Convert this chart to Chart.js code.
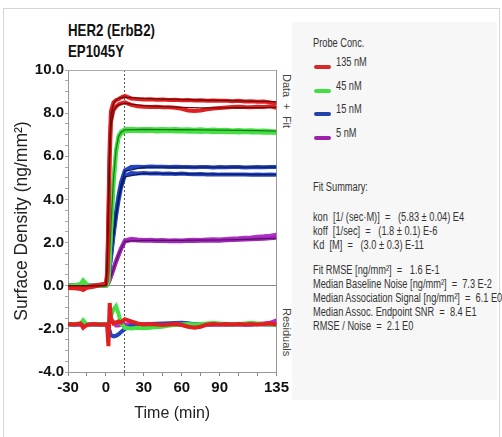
<!DOCTYPE html>
<html>
<head>
<meta charset="utf-8">
<script src="https://cdn.jsdelivr.net/npm/chart.js@4.4.1/dist/chart.umd.min.js"></script>
<style>
body { margin: 0; background: #fff; width: 502px; height: 437px; overflow: hidden; position: relative;
       font-family: 'Liberation Sans', Arial, sans-serif; }
#frame { position: absolute; left: 3px; top: 8px; width: 495px; height: 440px; border: 1px solid #d6d6d6; }
#panel { position: absolute; left: 292px; top: 22px; width: 205px; height: 378px; background: #f7f7f7; }
#c { position: absolute; left: 0; top: 0; }
.t { position: absolute; white-space: pre; color: #333; font-size: 12px; line-height: 14px;
     transform: scaleX(0.77); transform-origin: 0 0; }
.ttl { position: absolute; white-space: nowrap; color: #111; font-weight: bold; font-size: 17px; line-height: 20px;
       transform: scaleX(0.78); transform-origin: 0 0; }
.side { position: absolute; writing-mode: vertical-rl; color: #444; font-size: 11px; white-space: pre; }
.sw { position: absolute; width: 17px; height: 4px; border-radius: 2px; }
</style>
</head>
<body>
<div id="frame"></div>
<div id="panel"></div>
<div class="ttl" style="left:68px;top:21px">HER2 (ErbB2)</div>
<div class="ttl" style="left:68px;top:42px">EP1045Y</div>
<div class="side" style="left:281px;top:74px">Data  +  Fit</div>
<div class="side" style="left:281px;top:308px">Residuals</div>
<div id="legend"></div>
<div id="summary"></div>
<canvas id="c" width="292" height="437"></canvas>
<script>
// time axis (minutes)
var T = [-30,-25,-20,-18,-15,-10,-5,0,1,2,3,4,6,8,10,12,15,20,25,30,35,40,45,50,55,60,65,70,75,80,85,90,95,100,105,110,115,120,125,130,135];
var FIT_T = [-30,0,1,2,3,4,6,8,10,12,15,30,45,60,75,90,105,120,135];

// measured surface density, two replicates per concentration
var red135a = [-0.05,-0.08,-0.1,-0.15,-0.05,0.0,0.05,0.1, 0.6,3.5,6.6,8.1,8.5,8.6,8.65,8.72,
  8.8,8.68,8.65,8.63,8.64,8.62,8.63,8.61,8.62,8.6,8.61,8.59,8.6,8.57,8.59,8.57,8.58,8.55,8.57,8.54,8.55,8.53,8.54,8.5,8.43];
var red135b = [-0.1,-0.12,-0.15,-0.2,-0.1,-0.05,0.02,0.08, 0.4,2.8,5.9,7.6,8.15,8.3,8.4,8.45,
  8.5,8.38,8.32,8.3,8.28,8.3,8.27,8.27,8.25,8.2,8.12,8.1,8.12,8.18,8.22,8.24,8.26,8.28,8.3,8.28,8.27,8.3,8.28,8.32,8.25];
var green45a = [0.0,0.03,0.08,0.25,0.05,0.0,0.02,0.0, 0.05,0.3,1.4,2.6,4.9,6.3,6.95,7.15,
  7.25,7.28,7.25,7.27,7.26,7.25,7.27,7.25,7.26,7.24,7.25,7.23,7.25,7.22,7.24,7.22,7.23,7.2,7.22,7.2,7.21,7.18,7.2,7.17,7.15];
var green45b = [-0.02,0.0,0.05,0.2,0.02,-0.02,0.0,0.0, 0.04,0.25,1.2,2.4,4.7,6.15,6.85,7.05,
  7.15,7.18,7.17,7.16,7.18,7.15,7.16,7.17,7.15,7.16,7.14,7.15,7.13,7.15,7.12,7.14,7.12,7.13,7.1,7.12,7.1,7.11,7.09,7.1,7.08];
var blue15a = [0,0.02,0,0.01,-0.01,0,0.01,0, 0.1,0.4,0.9,1.4,2.5,3.4,4.2,4.8,
  5.35,5.5,5.52,5.5,5.53,5.51,5.52,5.5,5.51,5.5,5.5,5.49,5.5,5.5,5.48,5.5,5.49,5.5,5.5,5.48,5.49,5.5,5.49,5.5,5.5];
var blue15b = [0,0,0.01,0,0,-0.01,0,0, 0.1,0.35,0.8,1.3,2.3,3.2,3.95,4.55,
  5.1,5.22,5.2,5.22,5.2,5.21,5.19,5.2,5.18,5.2,5.18,5.17,5.18,5.16,5.17,5.15,5.16,5.15,5.16,5.15,5.14,5.15,5.14,5.15,5.14];
var purple5a = [0,0,0.01,0,0,0.01,0,0, 0.05,0.15,0.3,0.45,0.8,1.15,1.45,1.75,
  2.1,2.18,2.14,2.12,2.13,2.11,2.12,2.1,2.11,2.1,2.12,2.13,2.12,2.14,2.15,2.14,2.17,2.19,2.2,2.22,2.24,2.27,2.29,2.32,2.36];
var purple5b = [0,0,0,0.01,0,0,0,0, 0.04,0.13,0.27,0.42,0.75,1.1,1.4,1.7,
  2.05,2.12,2.1,2.08,2.09,2.07,2.08,2.06,2.07,2.06,2.08,2.07,2.08,2.09,2.1,2.09,2.11,2.12,2.13,2.14,2.15,2.17,2.18,2.2,2.22];

// fitted curves
var fitRedA = [0,0,1.0,4.0,6.6,7.9,8.45,8.6,8.68,8.72,8.74,8.68,8.65,8.63,8.61,8.59,8.57,8.55,8.53];
var fitRedB = [0,0,0.8,3.4,6.0,7.4,8.1,8.3,8.38,8.42,8.45,8.35,8.3,8.27,8.24,8.24,8.25,8.26,8.27];
var fitGreen = [0,0,0.1,0.5,1.6,2.8,4.95,6.3,6.92,7.12,7.22,7.25,7.24,7.23,7.22,7.21,7.2,7.19,7.17];
var fitBlueA = [0,0,0.12,0.45,0.95,1.45,2.45,3.35,4.1,4.7,5.3,5.5,5.5,5.5,5.5,5.5,5.5,5.5,5.5];
var fitBlueB = [0,0,0.1,0.4,0.85,1.3,2.25,3.15,3.9,4.5,5.05,5.21,5.2,5.19,5.18,5.17,5.16,5.15,5.15];
var fitPurple = [0,0,0.05,0.14,0.28,0.43,0.78,1.12,1.42,1.72,2.06,2.1,2.1,2.1,2.11,2.12,2.14,2.17,2.2];

// residuals (plotted offset around -1.8)
var resRed = [-1.78,-1.8,-1.75,-1.95,-1.82,-1.78,-1.8,-1.8, -1.9,-2.8,-0.8,-1.5,-1.75,-1.7,-1.65,-1.7,
  -1.55,-1.65,-1.75,-1.8,-1.78,-1.8,-1.82,-1.8,-1.78,-1.82,-1.9,-1.95,-1.9,-1.8,-1.78,-1.8,-1.78,-1.8,-1.78,-1.8,-1.78,-1.8,-1.78,-1.75,-1.8];
var resGreen = [-1.8,-1.78,-1.75,-1.6,-1.8,-1.8,-1.78,-1.8, -1.8,-1.75,-1.6,-1.4,-1.1,-0.95,-1.3,-1.75,
  -1.95,-1.98,-1.95,-1.97,-1.95,-1.92,-1.9,-1.85,-1.82,-1.8,-1.78,-1.8,-1.78,-1.75,-1.72,-1.75,-1.78,-1.8,-1.78,-1.75,-1.72,-1.75,-1.78,-1.8,-1.82];
var resBlue = [-1.8,-1.8,-1.8,-1.8,-1.8,-1.8,-1.8,-1.8, -1.85,-1.95,-2.1,-2.3,-2.35,-2.32,-2.25,-2.15,
  -2.0,-1.85,-1.82,-1.8,-1.78,-1.76,-1.75,-1.74,-1.73,-1.72,-1.74,-1.78,-1.8,-1.8,-1.8,-1.78,-1.8,-1.8,-1.78,-1.8,-1.8,-1.78,-1.8,-1.8,-1.8];
var resPurple = [-1.8,-1.8,-1.8,-1.8,-1.8,-1.8,-1.8,-1.8, -1.8,-1.78,-1.7,-1.6,-1.7,-1.85,-1.85,-1.8,
  -1.8,-1.78,-1.8,-1.8,-1.8,-1.8,-1.8,-1.8,-1.8,-1.8,-1.8,-1.8,-1.8,-1.8,-1.8,-1.8,-1.8,-1.8,-1.8,-1.8,-1.8,-1.78,-1.75,-1.72,-1.6];

var xLabels = [-30, 0, 30, 60, 90, 135];
var concLabels = ['135 nM', '45 nM', '15 nM', '5 nM'];
var concColors = ['#d42a2a', '#44dd44', '#2244aa', '#9c22aa'];
var summaryLines = [
  ['Fit Summary:', 0],
  ['kon  [1/ (sec\u00b7M)]  =   (5.83 \u00b1 0.04) E4', 30],
  ['koff  [1/sec]  =   (1.8 \u00b1 0.1) E-6', 44],
  ['Kd  [M]  =   (3.0 \u00b1 0.3) E-11', 58],
  ['Fit RMSE [ng/mm\u00b2]  =   1.6 E-1', 83],
  ['Median Baseline Noise [ng/mm\u00b2]  =  7.3 E-2', 97],
  ['Median Association Signal [ng/mm\u00b2]  =  6.1 E0', 111],
  ['Median Assoc. Endpoint SNR  =  8.4 E1', 125],
  ['RMSE / Noise  =  2.1 E0', 139]
];

// legend + summary panel text
var lg = document.getElementById('legend');
var h = '<div class="t" style="left:313px;top:36px">Probe Conc.</div>';
concLabels.forEach(function (l, i) {
  h += '<div class="sw" style="left:314px;top:' + (65 + i * 23.5) + 'px;background:' + concColors[i] + '"></div>';
  h += '<div class="t" style="left:336px;top:' + (55 + i * 23.5) + 'px">' + l + '</div>';
});
lg.innerHTML = h;
var sm = document.getElementById('summary');
h = '';
summaryLines.forEach(function (s) {
  h += '<div class="t" style="left:313px;top:' + (180 + s[1]) + 'px">' + s[0] + '</div>';
});
sm.innerHTML = h;

function pts(xs, ys) { return xs.map(function (x, i) { return { x: x, y: ys[i] }; }); }
function line(xs, ys, color, w) {
  return { data: pts(xs, ys), borderColor: color, borderWidth: w, pointRadius: 0, tension: 0, fill: false };
}

// bottom -> top
var sets = [
  line(T, resPurple, '#b030c8', 4),
  line(T, resBlue, '#2545c0', 4),
  line(T, resGreen, '#44e044', 4),
  line(T, resRed, '#e02020', 4),
  line(T, purple5a, '#b030c8', 4),
  line(T, purple5b, '#a028b8', 4),
  line(FIT_T, fitPurple, '#5a1066', 1.2),
  line(T, blue15a, '#2545c0', 4),
  line(T, blue15b, '#2545c0', 4),
  line(FIT_T, fitBlueA, '#0c1a60', 1.3),
  line(FIT_T, fitBlueB, '#0c1a60', 1.3),
  line(T, green45a, '#44e044', 4),
  line(T, green45b, '#44e044', 4),
  line(FIT_T, fitGreen, '#1a7a1a', 1.3),
  line(T, red135a, '#e02020', 4),
  line(T, red135b, '#e02020', 4),
  line(FIT_T, fitRedA, '#6e0a0a', 1.3),
  line(FIT_T, fitRedB, '#6e0a0a', 1.3)
].reverse();

var tickFont = { family: "'Liberation Sans', Arial", size: 15, weight: 'bold' };

new Chart(document.getElementById('c'), {
  type: 'line',
  data: { datasets: sets },
  options: {
    responsive: false,
    animation: false,
    layout: { padding: 0 },
    plugins: { legend: { display: false }, tooltip: { enabled: false } },
    scales: {
      x: {
        type: 'linear', min: -30, max: 135,
        ticks: {
          stepSize: 15, autoSkip: false, maxRotation: 0, padding: 3, color: '#111', font: tickFont,
          callback: function (v) { return xLabels.indexOf(v) >= 0 ? String(v) : ''; }
        },
        grid: {
          color: function (c) { return c.tick && c.tick.value === 15 ? '#555' : 'rgba(0,0,0,0)'; },
          tickColor: '#888', tickLength: 4, lineWidth: 1
        },
        border: { color: '#999', dash: [2, 2] },
        title: { display: true, text: 'Time (min)', color: '#222', padding: { top: 0, bottom: 14 },
                 font: { family: "'Liberation Sans', Arial", size: 16 } },
        afterFit: function (s) { s.height = 65; }
      },
      x2: {
        type: 'linear', position: 'top', min: -30, max: 135,
        ticks: { display: false }, grid: { display: false },
        border: { color: '#aaa' },
        afterFit: function (s) { s.height = 70; }
      },
      y: {
        type: 'linear', min: -4, max: 10,
        ticks: {
          stepSize: 0.5, autoSkip: false, padding: 1, color: '#111', font: tickFont,
          callback: function (v) { return Math.abs(v % 2) < 1e-9 ? v.toFixed(1) : ''; }
        },
        grid: {
          color: function (c) { return c.tick && c.tick.value === 0 ? '#888' : 'rgba(0,0,0,0)'; },
          tickColor: '#aaa', tickLength: 3
        },
        border: { color: '#999' },
        title: { display: true, text: 'Surface Density (ng/mm\u00b2)', color: '#222', padding: { top: 12, bottom: 0 },
                 font: { family: "'Liberation Sans', Arial", size: 17.5 } },
        afterFit: function (s) { s.width = 68; }
      },
      y2: {
        type: 'linear', position: 'right', min: -4, max: 10,
        ticks: { display: false }, grid: { display: false },
        border: { color: '#999' },
        afterFit: function (s) { s.width = 13; }
      }
    }
  }
});
</script>
</body>
</html>
